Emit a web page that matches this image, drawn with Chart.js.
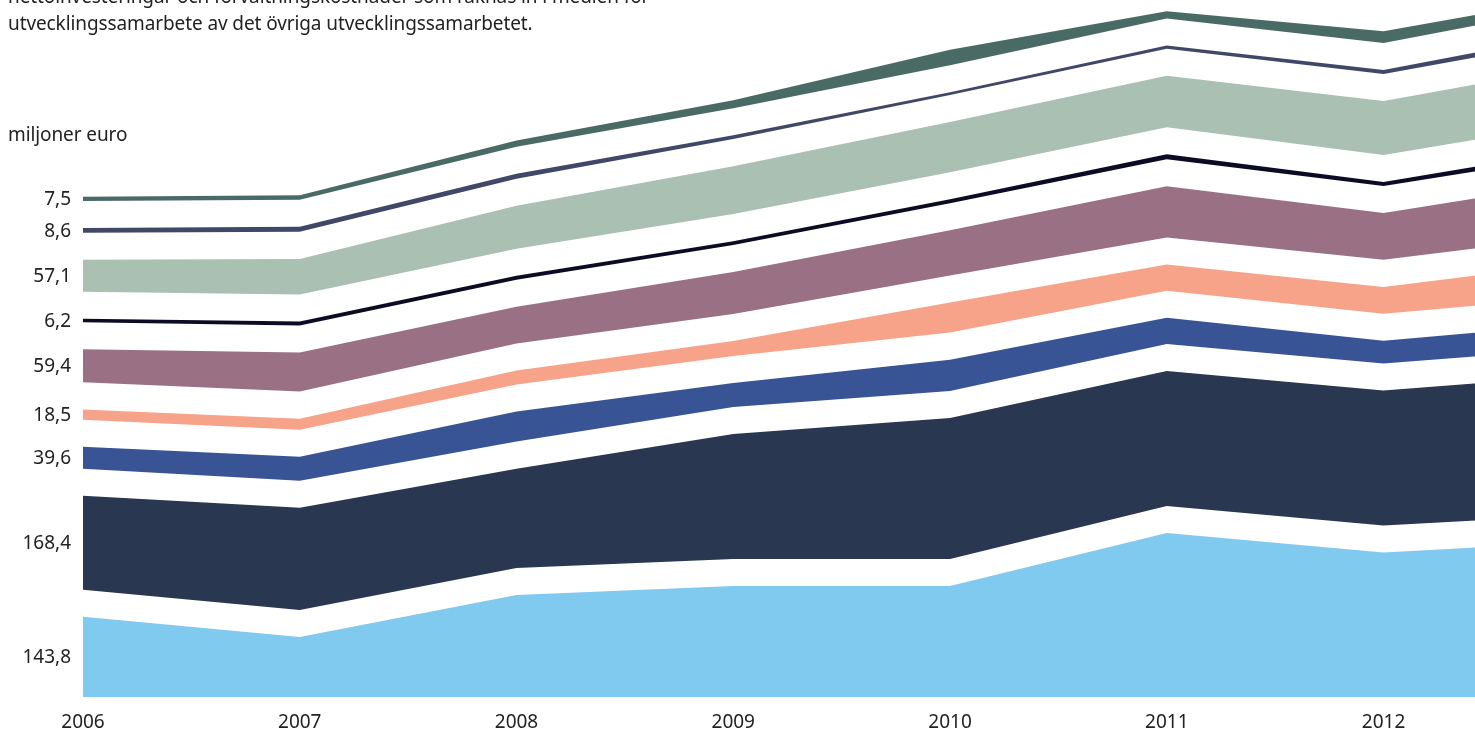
<!DOCTYPE html>
<html>
<head>
<meta charset="utf-8">
<script src="https://cdn.jsdelivr.net/npm/chart.js@4/dist/chart.umd.min.js"></script>
<style>
  html, body { margin: 0; padding: 0; background: #fff; overflow: hidden; width: 1475px; height: 731px; }
  #wrap { position: relative; width: 1475px; height: 731px; overflow: hidden; }
  canvas { position: absolute; left: 0; top: 0; }
  .note { position: absolute; left: 8px; font-family: "Noto Sans", sans-serif; font-size: 19px; color: #222; white-space: nowrap; z-index: 2; letter-spacing: -0.1px; }
</style>
</head>
<body>
<div id="wrap">
  <canvas id="chart" width="1636" height="731"></canvas>
  <div class="note" style="top:-17px; line-height:27px;">nettoinvesteringar och förvaltningskostnader som räknas in i medlen för<br>utvecklingssamarbete av det övriga utvecklingssamarbetet.</div>
  <div class="note" style="top:121px;">miljoner euro</div>
</div>
<script>
// years (2013 lies just past the right edge of the picture)
const years = ['2006', '2007', '2008', '2009', '2010', '2011', '2012', '2013'];

// series, bottom to top, miljoner euro
const lightBlue = [143.8, 107.7, 183, 199, 199, 294, 259, 280];
const navy      = [168.4, 183, 178, 224, 253, 242, 242, 251];
const blue      = [39.6, 43, 54, 43, 56, 47, 41, 45];
const salmon    = [18.5, 20, 25, 27, 54, 47, 48, 62];
const mauve     = [59.4, 70, 66, 75, 81, 92, 84, 98];
const black     = [6.2, 7, 7, 7, 7, 9, 7, 10];
const sage      = [57.1, 64, 77, 86, 90, 92, 97, 102];
const slate     = [8.6, 9, 9, 7, 5, 6, 7, 11];
const darkGreen = [7.5, 8, 11, 14, 28, 13, 21, 16];

const series = [lightBlue, navy, blue, salmon, mauve, black, sage, slate, darkGreen];
const colours = [
    '#80c9ef', // light blue
    '#2a3750', // navy
    '#385495', // blue
    '#f7a38a', // salmon
    '#9a7085', // mauve
    '#0b0b24', // near black
    '#a9c0b2', // sage
    '#414766', // slate
    '#4a6b65'  // dark green
];

// white space kept between the bands (value units)
const GAP = 48.5;

function buildDatasets() {
    const datasets = [];
    series.forEach((values, i) => {
        if (i > 0) {
            datasets.push({
                label: 'gap',
                data: years.map(() => GAP),
                fill: false,
                borderWidth: 0,
                pointRadius: 0,
                isGap: true
            });
        }
        datasets.push({
            label: 'band' + i,
            data: values,
            fill: i === 0 ? 'origin' : '-1',
            backgroundColor: colours[i],
            borderColor: colours[i],
            borderWidth: 0,
            pointRadius: 0,
            tension: 0
        });
    });
    return datasets;
}

// value labels at the left edge, in the middle of each band
const bandLabels = {
    id: 'bandLabels',
    afterDatasetsDraw(chart) {
        const ctx = chart.ctx;
        const yScale = chart.scales.y;
        ctx.save();
        ctx.font = '19px "Noto Sans", sans-serif';
        ctx.fillStyle = '#222';
        ctx.textAlign = 'right';
        ctx.textBaseline = 'middle';
        chart.data.datasets.forEach((ds, i) => {
            if (ds.isGap) return;
            const top = chart.getDatasetMeta(i).data[0].y;
            const bottom = i === 0 ? yScale.getPixelForValue(0) : chart.getDatasetMeta(i - 1).data[0].y;
            const text = ds.data[0].toFixed(1).replace('.', ',');
            ctx.fillText(text, chart.chartArea.left - 12, (top + bottom) / 2 + 1);
        });
        ctx.restore();
    }
};

new Chart(document.getElementById('chart').getContext('2d'), {
    type: 'line',
    data: {
        labels: years,
        datasets: buildDatasets()
    },
    plugins: [bandLabels],
    options: {
        responsive: false,
        animation: false,
        devicePixelRatio: 1,
        layout: { padding: { left: 83, right: 4, top: 0, bottom: 0 } },
        scales: {
            x: {
                grid: { display: false, drawTicks: false },
                border: { display: false },
                ticks: {
                    color: '#222',
                    padding: 14,
                    maxRotation: 0,
                    font: { family: '"Noto Sans", sans-serif', size: 19 }
                },
                afterFit(scale) { scale.height = 34; }
            },
            y: {
                display: false,
                stacked: true,
                min: 0,
                max: 1250
            }
        },
        plugins: {
            legend: { display: false },
            tooltip: { enabled: false }
        }
    }
});
</script>
</body>
</html>
